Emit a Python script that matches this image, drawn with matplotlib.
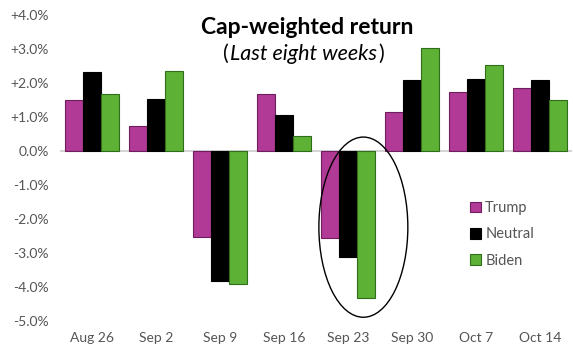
import matplotlib.pyplot as plt
import numpy as np
from matplotlib.patches import Ellipse
from matplotlib.transforms import IdentityTransform

# weekly cap-weighted returns (%)
weeks = ['Aug 26', 'Sep 2', 'Sep 9', 'Sep 16', 'Sep 23', 'Sep 30', 'Oct 7', 'Oct 14']
trump = [1.50, 0.75, -2.52, 1.69, -2.55, 1.14, 1.73, 1.84]
neutral = [2.33, 1.52, -3.82, 1.05, -3.12, 2.09, 2.12, 2.09]
biden = [1.69, 2.35, -3.91, 0.43, -4.31, 3.04, 2.52, 1.50]
yticks = [4, 3, 2, 1, 0, -1, -2, -3, -4, -5]
ytick_labels = ['+4.0%', '+3.0%', '+2.0%', '+1.0%', '0.0%', '-1.0%', '-2.0%', '-3.0%', '-4.0%', '-5.0%']

plt.rcParams['font.family'] = ['Lato', 'DejaVu Sans']

fig = plt.figure(figsize=(5.73, 3.56), dpi=100)
ax = fig.add_axes([60/573, 1 - 321/356, 512/573, 306/356])

x = np.arange(len(weeks))
w = 0.28
ax.bar(x - w, trump, w, color='#B03A96', edgecolor='#6E1E5E', linewidth=0.8, label='Trump')
ax.bar(x, neutral, w, color='black', edgecolor='black', linewidth=0.8, label='Neutral')
ax.bar(x + w, biden, w, color='#5DB135', edgecolor='#2F6E1A', linewidth=0.8, label='Biden')

ax.axhline(0, color='#CCCCCC', linewidth=1.2, zorder=0)

# circle around Sep 23
ell = Ellipse((4.24, -2.24), 1.39, 5.3, fill=False, edgecolor='black', linewidth=1.0)
ax.add_patch(ell)

ax.set_xlim(-0.5, 7.5)
ax.set_ylim(-5, 4)
ax.set_xticks(x)
ax.set_xticklabels(weeks, fontsize=10, color='#555555')
ax.set_yticks(yticks)
ax.set_yticklabels(ytick_labels, fontsize=10, color='#555555')
ax.tick_params(length=0, pad=8)
for s in ax.spines.values():
    s.set_visible(False)

# title + subtitle (italic text inside upright brackets)
fig.text(0.536, 0.9045, 'Cap-weighted return', ha='center', va='baseline', fontsize=16.5, fontweight='bold')
p1 = fig.text(0.39, 0.8315, '(', ha='left', va='baseline', fontsize=15.5)
fig.canvas.draw()
r = fig.canvas.get_renderer()
base_y = p1.get_transform().transform(p1.get_position())[1]
bb1 = p1.get_window_extent(r)
p2 = fig.text(bb1.x1 + 1, base_y, 'Last eight weeks', fontsize=15.5, fontstyle='italic',
              va='baseline', transform=IdentityTransform())
fig.canvas.draw()
bb2 = p2.get_window_extent(r)
fig.text(bb2.x1 + 1, base_y, ')', fontsize=15.5, va='baseline', transform=IdentityTransform())

leg = ax.legend(loc='upper left', bbox_to_anchor=(0.775, 0.435), frameon=False, fontsize=10.5,
                handlelength=0.75, handleheight=0.75, handletextpad=0.3, labelspacing=0.85)
for t in leg.get_texts():
    t.set_color('#555555')

plt.savefig('out.png', dpi=100)
